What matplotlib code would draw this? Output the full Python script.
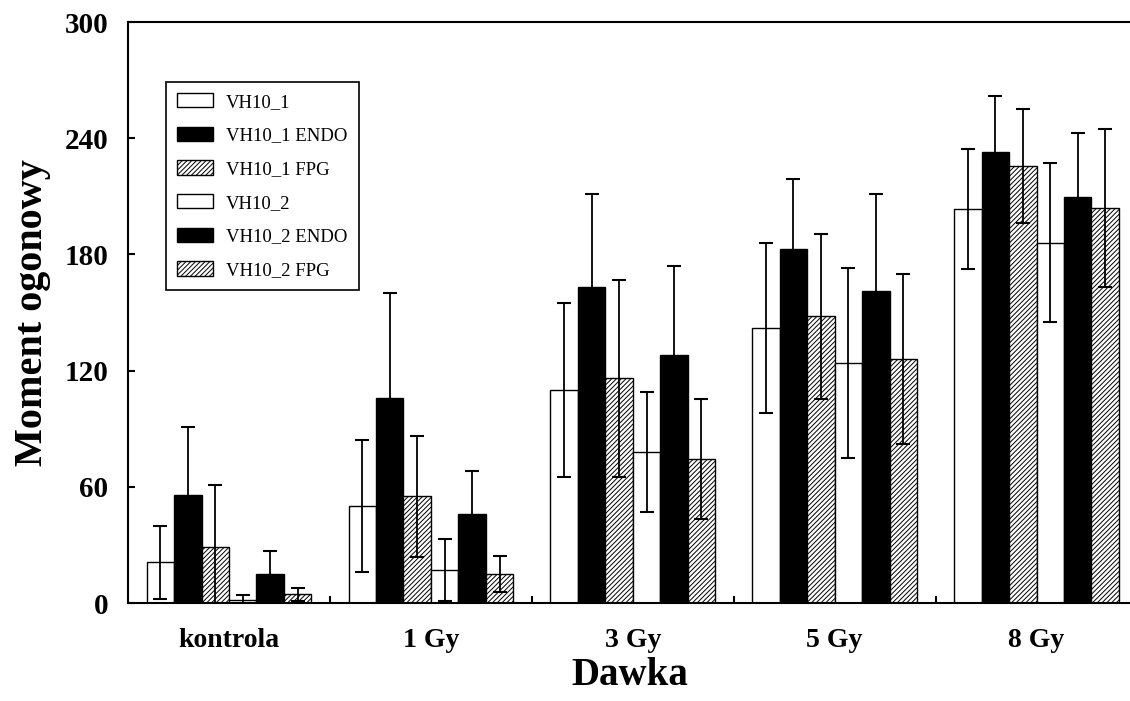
import numpy as np
import matplotlib
matplotlib.use("Agg")
import matplotlib.pyplot as plt

plt.rcParams.update({
    "font.family": "Liberation Serif",
    "hatch.linewidth": 0.7,
    "axes.linewidth": 1.5,
})

groups = ["kontrola", "1 Gy", "3 Gy", "5 Gy", "8 Gy"]
series = ["VH10_1", "VH10_1 ENDO", "VH10_1 FPG", "VH10_2", "VH10_2 ENDO", "VH10_2 FPG"]

vh1      = [21, 50, 110, 142, 203.5]
vh1_err  = [19, 34, 45, 44, 31]
vh1_endo = [56, 106, 163, 183, 233]
vh1_endo_err = [35, 54, 48, 36, 29]
vh1_fpg  = [29, 55, 116, 148, 225.5]
vh1_fpg_err = [32, 31, 51, 42.5, 29.5]
vh2      = [1.5, 17, 78, 124, 186]
vh2_err  = [2.5, 16, 31, 49, 41]
vh2_endo = [15, 46, 128, 161, 209.5]
vh2_endo_err = [12, 22, 46, 50, 33]
vh2_fpg  = [4.5, 15, 74.5, 126, 204]
vh2_fpg_err = [3.5, 9.5, 31, 44, 41]

values = [vh1, vh1_endo, vh1_fpg, vh2, vh2_endo, vh2_fpg]
errors = [vh1_err, vh1_endo_err, vh1_fpg_err, vh2_err, vh2_endo_err, vh2_fpg_err]
faces = ["white", "black", "white", "white", "black", "white"]
hatches = [None, None, "///////", None, None, "///////"]

fig = plt.figure(figsize=(11.3, 7.01), dpi=100)
ax = fig.add_axes([0.1133, 0.1398, 0.8880, 0.8288])

x = np.arange(len(groups))
w = 0.136
for i in range(6):
    pos = x + (i - 2.5) * w
    ax.bar(pos, values[i], width=w, color=faces[i], edgecolor="black",
           linewidth=1.0, hatch=hatches[i], label=series[i], zorder=2)
    ax.errorbar(pos, values[i], yerr=errors[i], fmt="none", ecolor="black",
                elinewidth=1.3, capsize=5, capthick=1.5, zorder=3)

ax.set_xlim(-0.5, 4.47)
ax.set_ylim(0, 300)
ax.set_yticks(np.arange(0, 301, 60))
ax.set_xticks(x)
ax.set_xticklabels(groups)
ax.set_xticks(x[:-1] + 0.5, minor=True)
ax.tick_params(axis="x", which="major", length=0, pad=18)
ax.tick_params(axis="x", which="minor", direction="in", length=5, width=1.5)
ax.tick_params(axis="y", direction="in", length=5, width=1.5, pad=14)
for lab in ax.get_xticklabels():
    lab.set_fontsize(20)
    lab.set_fontweight("bold")
for lab in ax.get_yticklabels():
    lab.set_fontsize(21)
    lab.set_fontweight("bold")

ax.set_xlabel("Dawka", fontsize=28, fontweight="bold", labelpad=3)
ax.set_ylabel("Moment ogonowy", fontsize=29, fontweight="bold", labelpad=10)

leg = ax.legend(loc="upper left", bbox_to_anchor=(0.038, 0.897), borderaxespad=0,
                fancybox=False, edgecolor="black", fontsize=13.5,
                handlelength=1.9, handleheight=0.8, labelspacing=0.85,
                handletextpad=0.7, borderpad=0.6, framealpha=1)
leg.get_frame().set_linewidth(1.2)

fig.savefig("out.png", dpi=100)
